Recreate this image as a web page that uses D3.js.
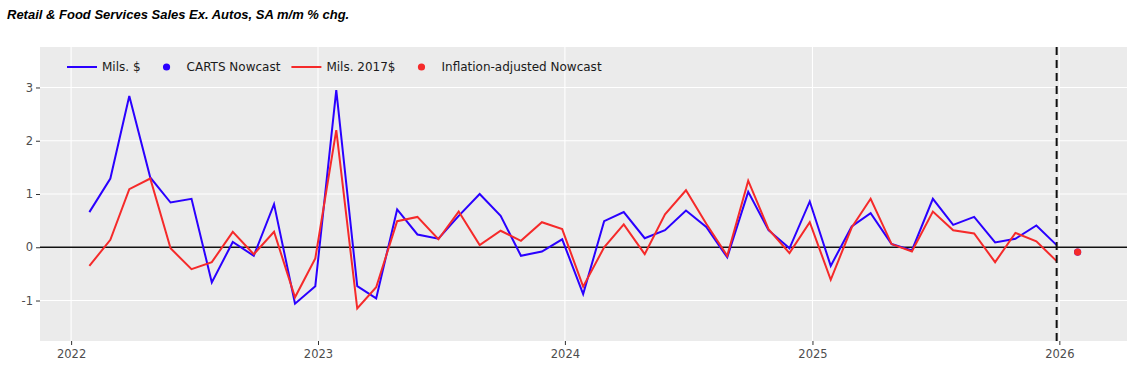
<!DOCTYPE html>
<html>
<head>
<meta charset="utf-8">
<script src="https://cdn.jsdelivr.net/npm/d3@7"></script>
<style>
  body { margin: 0; background: #fff; }
  svg { display: block; }
  .tick text { font-family: "DejaVu Sans", Verdana, sans-serif; font-size: 11.5px; fill: #4d4d4d; }
  .tick line { stroke: #333; }
  .domain { display: none; }
</style>
</head>
<body>
<div id="chart"></div>
<script>
// months Jan 2022 .. Dec 2025 (plotted late in the month)
var months = d3.timeMonth.range(new Date(2022, 0, 1), new Date(2026, 0, 1));

// Mils. $ (nominal) m/m % chg
var nominal = [0.66, 1.29, 2.84, 1.31, 0.84, 0.91, -0.66, 0.10, -0.16, 0.81, -1.06, -0.73,
               2.95, -0.73, -0.96, 0.71, 0.24, 0.16, 0.59, 1.00, 0.59, -0.16, -0.08, 0.15,
               -0.88, 0.49, 0.66, 0.17, 0.32, 0.69, 0.38, -0.19, 1.04, 0.32, -0.02, 0.86,
               -0.35, 0.39, 0.64, 0.06, -0.06, 0.91, 0.42, 0.57, 0.09, 0.16, 0.41, 0.04];

// Mils. 2017$ (real) m/m % chg
var real = [-0.35, 0.14, 1.09, 1.29, -0.02, -0.41, -0.28, 0.29, -0.13, 0.29, -0.94, -0.21,
            2.20, -1.15, -0.75, 0.49, 0.57, 0.15, 0.67, 0.04, 0.31, 0.12, 0.47, 0.34,
            -0.74, 0.00, 0.43, -0.13, 0.62, 1.07, 0.44, -0.16, 1.25, 0.34, -0.11, 0.47,
            -0.61, 0.37, 0.91, 0.06, -0.08, 0.67, 0.32, 0.26, -0.28, 0.27, 0.11, -0.26];

// nowcasts for Jan 2026
var nowcastMonth = new Date(2026, 0, 1);
var cartsNowcast = -0.09;
var realNowcast = -0.09;

var yTicks = [-1, 0, 1, 2, 3];
var xTicks = [2022, 2023, 2024, 2025, 2026];

var blue = "#2a00ff";
var red = "#f52a2a";

// svg size and panel
var svgWidth = 1131;
var svgHeight = 371;
var panel = { left: 40, right: 1127, top: 47, bottom: 341 };

var svg = d3.select("#chart")
  .append("svg")
  .attr("width", svgWidth)
  .attr("height", svgHeight);

// each month is drawn on its 28th day
function monthDate(m) {
  return d3.timeDay.offset(m, 27);
}

var data = months.map(function(m, i) {
  return { date: monthDate(m), nominal: nominal[i], real: real[i] };
});

var xScale = d3.scaleTime()
  .domain([new Date(2021, 10, 16), new Date(2026, 3, 11)])
  .range([panel.left, panel.right]);

var yScale = d3.scaleLinear()
  .domain([-1.76, 3.76])
  .range([panel.bottom, panel.top]);

// title
svg.append("text")
  .attr("x", 7)
  .attr("y", 19)
  .style("font-family", "'Liberation Sans', Arial, sans-serif")
  .style("font-size", "13px")
  .style("font-weight", "bold")
  .style("font-style", "italic")
  .text("Retail & Food Services Sales Ex. Autos, SA m/m % chg.");

// panel background
svg.append("rect")
  .attr("x", panel.left)
  .attr("y", panel.top)
  .attr("width", panel.right - panel.left)
  .attr("height", panel.bottom - panel.top)
  .attr("fill", "#ebebeb");

// gridlines
svg.append("g").selectAll("line")
  .data(yTicks)
  .enter()
  .append("line")
  .attr("x1", panel.left)
  .attr("x2", panel.right)
  .attr("y1", d => yScale(d))
  .attr("y2", d => yScale(d))
  .attr("stroke", "#fff")
  .attr("stroke-width", 1.1);

svg.append("g").selectAll("line")
  .data(xTicks)
  .enter()
  .append("line")
  .attr("x1", d => xScale(new Date(d, 0, 1)))
  .attr("x2", d => xScale(new Date(d, 0, 1)))
  .attr("y1", panel.top)
  .attr("y2", panel.bottom)
  .attr("stroke", "#fff")
  .attr("stroke-width", 1.1);

// axes
var xAxis = d3.axisBottom(xScale)
  .tickValues(xTicks.map(d => new Date(d, 0, 1)))
  .tickFormat(d3.timeFormat("%Y"))
  .tickSize(4)
  .tickPadding(5);

svg.append("g")
  .attr("transform", `translate(0, ${panel.bottom})`)
  .call(xAxis);

var yAxis = d3.axisLeft(yScale)
  .tickValues(yTicks)
  .tickFormat(d3.format("d"))
  .tickSize(4)
  .tickPadding(3);

svg.append("g")
  .attr("transform", `translate(${panel.left}, 0)`)
  .call(yAxis);

svg.selectAll(".tick text").filter(function() { return this.textContent.startsWith("−"); })
  .text(function() { return this.textContent.replace("−", "-"); });

// zero line
svg.append("line")
  .attr("x1", panel.left)
  .attr("x2", panel.right)
  .attr("y1", yScale(0))
  .attr("y2", yScale(0))
  .attr("stroke", "#111")
  .attr("stroke-width", 1.6);

// series lines
var nominalLine = d3.line()
  .x(d => xScale(d.date))
  .y(d => yScale(d.nominal));

var realLine = d3.line()
  .x(d => xScale(d.date))
  .y(d => yScale(d.real));

svg.append("path")
  .datum(data)
  .attr("d", nominalLine)
  .attr("fill", "none")
  .attr("stroke", blue)
  .attr("stroke-width", 2);

svg.append("path")
  .datum(data)
  .attr("d", realLine)
  .attr("fill", "none")
  .attr("stroke", red)
  .attr("stroke-width", 2);

// last actual month marker
var lastDate = data[data.length - 1].date;
svg.append("line")
  .attr("x1", xScale(lastDate))
  .attr("x2", xScale(lastDate))
  .attr("y1", panel.top)
  .attr("y2", panel.bottom)
  .attr("stroke", "#111")
  .attr("stroke-width", 2)
  .attr("stroke-dasharray", "8,5");

// nowcast points
svg.append("circle")
  .attr("cx", xScale(monthDate(nowcastMonth)))
  .attr("cy", yScale(cartsNowcast))
  .attr("r", 3.6)
  .attr("fill", blue);

svg.append("circle")
  .attr("cx", xScale(monthDate(nowcastMonth)))
  .attr("cy", yScale(realNowcast))
  .attr("r", 3.6)
  .attr("fill", red);

// legend
var legendItems = [
  { label: "Mils. $", color: blue, type: "line" },
  { label: "CARTS Nowcast", color: blue, type: "dot" },
  { label: "Mils. 2017$", color: red, type: "line" },
  { label: "Inflation-adjusted Nowcast", color: red, type: "dot" }
];

var legend = svg.append("g").attr("transform", "translate(67, 67)");
var lx = 0;
legendItems.forEach(function(item) {
  if (item.type == "line") {
    legend.append("line")
      .attr("x1", lx).attr("x2", lx + 30)
      .attr("y1", 0).attr("y2", 0)
      .attr("stroke", item.color)
      .attr("stroke-width", 2);
  } else {
    legend.append("circle")
      .attr("cx", lx + 15).attr("cy", 0)
      .attr("r", 3.6)
      .attr("fill", item.color);
  }
  var t = legend.append("text")
    .attr("x", lx + 35)
    .attr("y", 0)
    .attr("dy", "0.35em")
    .style("font-family", "'DejaVu Sans', Verdana, sans-serif")
    .style("font-size", "12px")
    .style("fill", "#1a1a1a")
    .text(item.label);
  lx += 35 + t.node().getComputedTextLength() + 11;
});
</script>
</body>
</html>
